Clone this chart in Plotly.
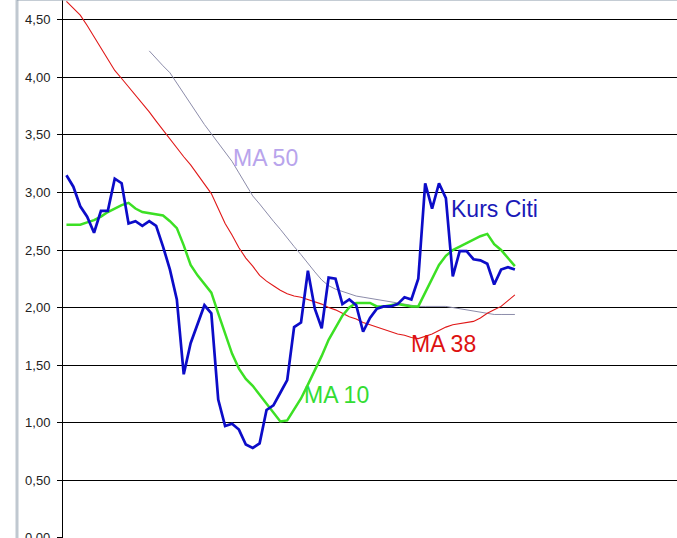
import plotly.graph_objects as go

weeks = list(range(1, 67))

kurs_citi = [3.15, 3.05, 2.88, 2.79, 2.65, 2.84, 2.84, 3.12, 3.08, 2.73,
             2.75, 2.71, 2.75, 2.71, 2.53, 2.33, 2.07, 1.42, 1.69, 1.85,
             2.02, 1.95, 1.20, 0.97, 0.99, 0.94, 0.81, 0.78, 0.82, 1.11,
             1.15, 1.26, 1.37, 1.83, 1.87, 2.32, 1.99, 1.82, 2.26, 2.25,
             2.03, 2.07, 2.02, 1.79, 1.91, 1.99, 2.01, 2.01, 2.03, 2.09,
             2.07, 2.25, 3.08, 2.86, 3.08, 2.95, 2.27, 2.49, 2.49, 2.42,
             2.41, 2.38, 2.20, 2.33, 2.35, 2.33]

ma10 = [2.72, 2.72, 2.72, 2.74, 2.76, 2.79, 2.83, 2.86, 2.89, 2.91,
        2.86, 2.83, 2.82, 2.81, 2.80, 2.75, 2.69, 2.54, 2.37, 2.28,
        2.21, 2.13, 1.95, 1.78, 1.60, 1.47, 1.38, 1.32, 1.24, 1.17,
        1.09, 1.01, 1.02, 1.12, 1.21, 1.33, 1.45, 1.58, 1.72, 1.83,
        1.93, 2.00, 2.04, 2.04, 2.04, 2.01, 2.01, 2.02, 2.03, 2.02,
        2.01, 2.01, 2.13, 2.25, 2.37, 2.45, 2.50, 2.53, 2.56, 2.59,
        2.62, 2.64, 2.55, 2.50, 2.43, 2.36]

ma38 = [4.66, 4.60, 4.54, 4.45, 4.35, 4.25, 4.15, 4.06, 3.99, 3.92,
        3.85, 3.78, 3.70, 3.62, 3.54, 3.47, 3.39, 3.31, 3.24, 3.16,
        3.08, 2.99, 2.86, 2.73, 2.63, 2.52, 2.43, 2.36, 2.28, 2.23,
        2.19, 2.15, 2.12, 2.10, 2.09, 2.07, 2.05, 2.03, 2.00, 1.98,
        1.95, 1.92, 1.90, 1.87, 1.85, 1.83, 1.81, 1.79, 1.77, 1.76,
        1.74, 1.73, 1.75, 1.77, 1.80, 1.83, 1.85, 1.86, 1.87, 1.88,
        1.91, 1.95, 1.98, 2.01, 2.06, 2.11]

ma50 = [None] * 12 + [
        4.23, 4.16, 4.10, 4.04, 3.95, 3.85, 3.76, 3.67,
        3.59, 3.51, 3.43, 3.35, 3.27, 3.17, 3.07, 2.97, 2.90, 2.82,
        2.75, 2.68, 2.60, 2.53, 2.46, 2.38, 2.31, 2.24, 2.19, 2.16,
        2.14, 2.12, 2.10, 2.09, 2.08, 2.07, 2.06, 2.05, 2.04, 2.03,
        2.02, 2.01, 2.01, 2.01, 2.01, 2.01, 2.00, 1.99, 1.98, 1.97,
        1.96, 1.95, 1.94, 1.94, 1.94, 1.94]

y_ticks = [0.0, 0.5, 1.0, 1.5, 2.0, 2.5, 3.0, 3.5, 4.0, 4.5]
y_tick_labels = ["0,00", "0,50", "1,00", "1,50", "2,00", "2,50", "3,00", "3,50", "4,00", "4,50"]

fig = go.Figure()
fig.add_trace(go.Scatter(x=weeks, y=ma50, mode="lines", line=dict(color="#8c8caa", width=1), name="MA 50"))
fig.add_trace(go.Scatter(x=weeks, y=ma38, mode="lines", line=dict(color="#e01818", width=1.1), name="MA 38"))
fig.add_trace(go.Scatter(x=weeks, y=ma10, mode="lines", line=dict(color="#3ce024", width=2.5), name="MA 10"))
fig.add_trace(go.Scatter(x=weeks, y=kurs_citi, mode="lines", line=dict(color="#0c0cc8", width=2.7), name="Kurs Citi"))

lab_font = "Arial, Liberation Sans, sans-serif"
annots = [
    ("MA 50", 29.8, 3.30, "#b8a4ec"),
    ("Kurs Citi", 63.1, 2.86, "#1a1ab8"),
    ("MA 38", 55.6, 1.68, "#dd1111"),
    ("MA 10", 40.1, 1.24, "#33dd33"),
]
for txt, ax_, ay_, col in annots:
    fig.add_annotation(x=ax_, y=ay_, xref="x", yref="y", text=txt, showarrow=False,
                       font=dict(family=lab_font, size=23, color=col),
                       xanchor="center", yanchor="middle")

# bottom tick label, cut by the frame edge as in the cropped original
fig.add_annotation(x=(52 - 63) / 614, y=y_ticks[0], xref="paper", yref="y", text=y_tick_labels[0],
                   showarrow=False, xanchor="right", yanchor="middle",
                   font=dict(family=lab_font, size=13, color="#222222"))

# chart area borders (cropped Excel frame)
fig.add_shape(type="line", xref="paper", yref="paper", x0=(17 - 63) / 614, x1=(17 - 63) / 614,
              y0=-0.01, y1=1.01, line=dict(color="#c0c8d0", width=3), layer="above")
fig.add_shape(type="line", xref="paper", yref="paper", x0=(17 - 63) / 614, x1=1.01,
              y0=1.001, y1=1.001, line=dict(color="#8a9aaa", width=2), layer="above")

fig.update_layout(
    width=677, height=538,
    margin=dict(l=63, r=0, t=0, b=0),
    paper_bgcolor="white", plot_bgcolor="white",
    showlegend=False,
    font=dict(family=lab_font, size=13, color="#222222"),
)
fig.update_xaxes(range=[0.5, 89.5], showgrid=False, showticklabels=False, zeroline=False,
                 showline=False, ticks="")
fig.update_yaxes(range=[-0.002, 4.672], tickvals=y_ticks, ticktext=y_tick_labels,
                 showgrid=True, gridcolor="black", gridwidth=1, zeroline=False,
                 showline=True, linecolor="black", linewidth=1,
                 ticks="outside", ticklen=5, tickcolor="black", tickwidth=1,
                 ticklabelstandoff=4,
                 tickfont=dict(family=lab_font, size=13, color="#222222"))

fig.write_html("out.html", config={"displayModeBar": False},
               post_script="document.body.style.margin='0';document.body.style.overflow='hidden';")
